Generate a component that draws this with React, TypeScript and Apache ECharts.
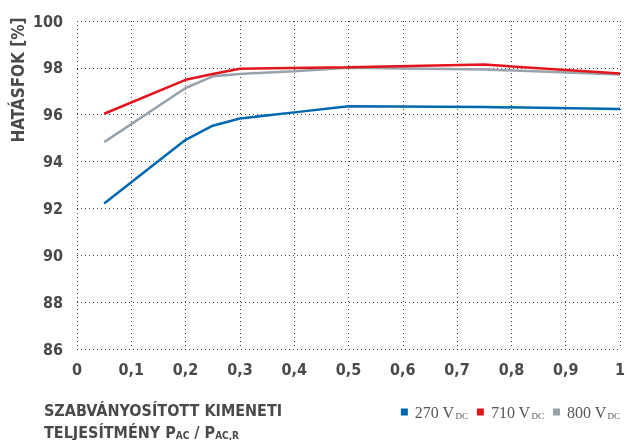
import React, { useEffect, useRef } from "react";
import * as echarts from "echarts";

const xTicks = [0, 0.1, 0.2, 0.3, 0.4, 0.5, 0.6, 0.7, 0.8, 0.9, 1];
const seriesNames = ["270", "710", "800"];
const load270 = [0.05, 0.2, 0.25, 0.3, 0.4, 0.5, 0.75, 1];
const eff270 = [92.21, 94.93, 95.53, 95.84, 96.1, 96.36, 96.33, 96.24];
const load710 = [0.05, 0.2, 0.25, 0.3, 0.5, 0.75, 1];
const eff710 = [96.04, 97.49, 97.74, 97.96, 98.03, 98.14, 97.76];
const load800 = [0.05, 0.2, 0.25, 0.3, 0.4, 0.5, 0.75, 1];
const eff800 = [94.83, 97.14, 97.64, 97.74, 97.86, 98.0, 97.93, 97.72];
const colors = ["#0067b1", "#e3141c", "#97a2ab"];

const FONT = "DejaVu Sans Condensed";
const TXT = "#4a4a4a";

export default function App() {
  const ref = useRef<HTMLDivElement>(null);
  useEffect(() => {
    if (!ref.current) return;
    const chart = echarts.init(ref.current, null, { renderer: "svg" });
    const pairs = (xs: number[], ys: number[]) => xs.map((x, i) => [x, ys[i]]);
    const dataSets = [pairs(load270, eff270), pairs(load710, eff710), pairs(load800, eff800)];
    const dotted = { color: "#444", width: 1, type: [1, 3] as any };
    chart.setOption({
      animation: false,
      grid: { left: 77, right: 6, top: 21, bottom: 91, containLabel: false },
      xAxis: {
        type: "value",
        min: 0,
        max: 1,
        interval: 0.1,
        axisLine: { show: false },
        axisTick: { show: false },
        splitLine: { show: true, lineStyle: dotted },
        axisLabel: {
          margin: 12,
          fontFamily: FONT,
          fontWeight: "bold",
          fontSize: 16,
          color: TXT,
          formatter: (v: number) => {
            const t = xTicks.find((k) => Math.abs(k - v) < 1e-6);
            return t === undefined ? "" : String(t).replace(".", ",");
          },
        },
      },
      yAxis: {
        type: "value",
        min: 86,
        max: 100,
        interval: 2,
        axisLine: { show: false },
        axisTick: { show: false },
        splitLine: { show: true, lineStyle: dotted },
        axisLabel: {
          margin: 14,
          fontFamily: FONT,
          fontWeight: "bold",
          fontSize: 16,
          color: TXT,
        },
      },
      legend: {
        right: 3,
        top: 399,
        itemWidth: 7,
        itemHeight: 7,
        itemGap: 9,
        icon: "rect",
        data: seriesNames,
        formatter: (n: string) => `{v|${n} V}{s|DC}`,
        textStyle: {
          color: "#555",
          rich: {
            v: { fontFamily: "Liberation Serif", fontSize: 16, color: "#555", padding: [0, 0, 0, 2] },
            s: { fontFamily: "Liberation Serif", fontSize: 9, color: "#555", verticalAlign: "bottom", padding: [7, 0, 0, 1] },
          },
        },
      },
      series: seriesNames.map((n, i) => ({
        name: n,
        type: "line",
        data: dataSets[i],
        showSymbol: false,
        symbol: "none",
        lineStyle: { color: colors[i], width: 2.5 },
        itemStyle: { color: colors[i] },
        z: i === 1 ? 3 : 2,
      })),
      graphic: [
        {
          type: "text",
          x: 18,
          y: 80,
          rotation: Math.PI / 2,
          style: {
            text: "HATÁSFOK [%]",
            fontFamily: FONT,
            fontWeight: "bold",
            fontSize: 17,
            fill: TXT,
            align: "center",
            verticalAlign: "middle",
          },
        },
        {
          type: "text",
          x: 44,
          y: 410,
          style: {
            text: "SZABVÁNYOSÍTOTT KIMENETI",
            fontFamily: FONT,
            fontWeight: "bold",
            fontSize: 16,
            fill: TXT,
            align: "left",
            verticalAlign: "middle",
          },
        },
        {
          type: "text",
          x: 44,
          y: 423,
          style: {
            text: "{a|TELJESÍTMÉNY P}{s|AC}{a| / P}{s|AC,R}",
            fill: TXT,
            align: "left",
            verticalAlign: "top",
            rich: {
              a: { fontFamily: FONT, fontWeight: "bold", fontSize: 16, fill: TXT, verticalAlign: "bottom", lineHeight: 17 },
              s: { fontFamily: FONT, fontWeight: "bold", fontSize: 10, fill: TXT, verticalAlign: "bottom", padding: [4, 0, 0, 0] },
            },
          },
        },
      ],
    });
    return () => chart.dispose();
  }, []);
  return <div ref={ref} style={{ position: "fixed", left: 0, top: 0, width: 628, height: 440 }} />;
}
